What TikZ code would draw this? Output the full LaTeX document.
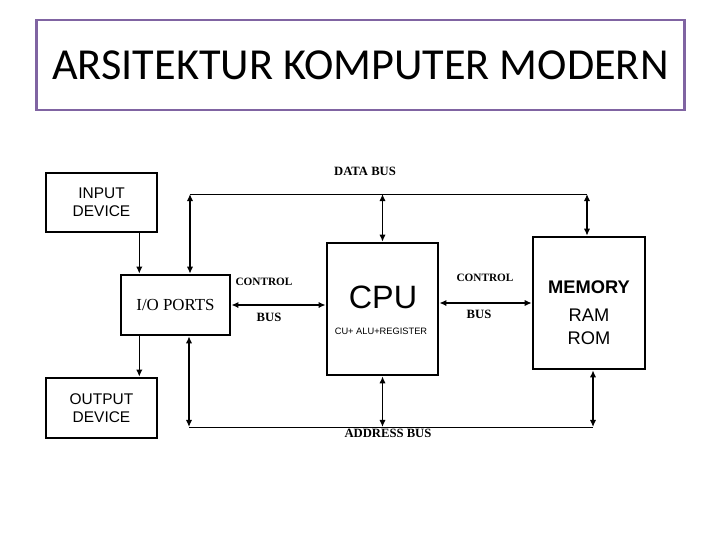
\documentclass[tikz,border=0pt]{standalone}
\usepackage{fontspec}
\usetikzlibrary{arrows.meta}
\newfontfamily\titlefont{Carlito}
\newfontfamily\boxfont{Liberation Sans}
\newfontfamily\busfont{Liberation Serif}
\definecolor{framepurple}{RGB}{128,100,162}
\begin{document}
\begin{tikzpicture}[x=0.025cm, y=-0.025cm,
  unit/.style={draw, line width=1.8pt, align=center, inner sep=0pt},
  link/.style={line width=1.1pt, -{Latex[length=5pt,width=4.5pt]}},
  dlink/.style={line width=1.1pt, {Latex[length=5pt,width=4.5pt]}-{Latex[length=5pt,width=4.5pt]}},
  bus/.style={line width=0.7pt},
  buslabel/.style={font=\busfont\bfseries\fontsize{9}{10}\selectfont}]
\useasboundingbox (0,0) rectangle (720,540);
\node[draw=framepurple, line width=2pt, inner sep=0pt, minimum width=16.2cm, minimum height=2.25cm, font=\titlefont\fontsize{31.5}{34}\selectfont] (title) at (360.5,65) {ARSITEKTUR KOMPUTER MODERN};
\node[unit, minimum width=2.78cm, minimum height=1.48cm, font=\boxfont\fontsize{11}{13}\selectfont] (input) at (101.5,202.5) {INPUT\\DEVICE};
\node[unit, minimum width=2.73cm, minimum height=1.5cm, font=\busfont\fontsize{12}{14}\selectfont] (io) at (175.5,305) {I/O PORTS};
\node[unit, minimum width=2.78cm, minimum height=1.5cm, font=\boxfont\fontsize{11}{13}\selectfont] (output) at (101.5,408) {OUTPUT\\DEVICE};
\node[unit, minimum width=2.78cm, minimum height=3.3cm] (cpu) at (382.5,309) {};
\node[unit, minimum width=2.8cm, minimum height=3.3cm] (mem) at (589,303) {};
\node[font=\boxfont\fontsize{23}{25}\selectfont] (cputext) at (383,297) {CPU};
\node[font=\boxfont\fontsize{6.6}{8}\selectfont] (cpusub) at (381,331) {CU+ ALU+REGISTER};
\node[font=\boxfont\bfseries\fontsize{13}{15}\selectfont] (memtext) at (589,287) {MEMORY};
\node[font=\boxfont\fontsize{13}{16}\selectfont, align=center] (memsub) at (589,327) {RAM\\ROM};
% bus labels
\node[buslabel] (dbus) at (365,171) {DATA BUS};
\node[buslabel] (abus) at (388,433) {ADDRESS BUS};
\node[buslabel, font=\busfont\bfseries\fontsize{8}{9}\selectfont] (ctrl1) at (264,282) {CONTROL};
\node[buslabel] (cbus1) at (269,317) {BUS};
\node[buslabel, font=\busfont\bfseries\fontsize{8}{9}\selectfont] (ctrl2) at (485,278) {CONTROL};
\node[buslabel] (cbus2) at (479,314) {BUS};
% data bus
\coordinate (db1) at (190,194);
\coordinate (db2) at (587,194);
\draw[bus] (db1) -- (db2);
\draw[dlink] (db1) -- (db1 |- io.north);
\draw[dlink] (cpu.north |- db1) -- (cpu.north);
\draw[dlink] (db2) -- (db2 |- mem.north);
% address bus
\coordinate (ab1) at (189,427);
\coordinate (ab2) at (593,427);
\draw[bus] (ab1) -- (ab2);
\draw[dlink] (ab1 |- io.south) -- (ab1);
\draw[dlink] (cpu.south) -- (cpu.south |- ab1);
\draw[dlink] (ab2 |- mem.south) -- (ab2);
% control bus
\draw[dlink] (io.east) -- (io.east -| cpu.west);
\draw[dlink] (cpu.east |- mem.west) -- (mem.west);
% input and output
\draw[link] ([xshift=14pt]io.north west |- input.south) -- ([xshift=14pt]io.north west);
\draw[link] ([xshift=14pt]io.south west) -- ([xshift=14pt]io.south west |- output.north);
\end{tikzpicture}
\end{document}
